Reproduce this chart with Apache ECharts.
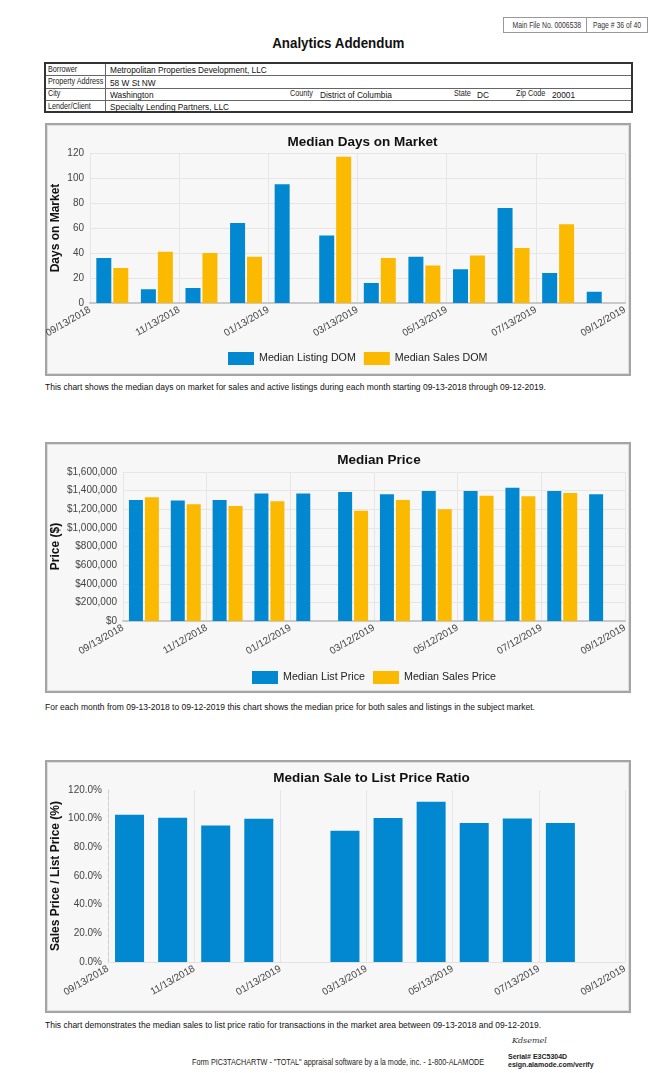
<!DOCTYPE html>
<html>
<head>
<meta charset="utf-8">
<script src="https://cdn.jsdelivr.net/npm/echarts@6/dist/echarts.min.js"></script>
<style>
  html, body { margin:0; padding:0; background:#fff; }
  body { width:650px; height:1073px; position:relative; overflow:hidden; font-family:"Liberation Sans", Arial, sans-serif; color:#111; }
  .abs { position:absolute; white-space:nowrap; }
  .nl { display:inline-block; transform:scaleX(0.8); transform-origin:left center; white-space:nowrap; }
  .nc { display:inline-block; transform:scaleX(0.8); transform-origin:center center; white-space:nowrap; }
  .box { position:absolute; background:#f7f7f7; border:2px solid #a4a4a4; box-shadow: inset 0 0 0 1px #dedede; box-sizing:border-box; }
  .hdrbox { position:absolute; border:1px solid #999; box-sizing:border-box; font-size:8.5px; color:#333; text-align:center; line-height:14px; overflow:visible; white-space:nowrap; }
  #tbl { position:absolute; left:44px; top:62px; width:589px; height:51px; border:2px solid #333; box-sizing:border-box; }
  .row { position:absolute; left:0; width:100%; height:12px; border-top:1px solid #666; box-sizing:border-box; }
  .lbl { position:absolute; font-size:9px; line-height:11px; color:#222; white-space:nowrap; }
  .val { position:absolute; font-size:8.3px; line-height:12px; color:#111; white-space:nowrap; }
  .cap { position:absolute; left:45px; font-size:8.5px; color:#111; white-space:nowrap; }
  #chart { position:absolute; left:0; top:0; width:650px; height:1073px; }
</style>
</head>
<body>
<div class="hdrbox" style="left:503px;top:17px;width:84px;height:16px;"><span class="nc">Main File No. 0006538</span></div>
<div class="hdrbox" style="left:586px;top:17px;width:62px;height:16px;"><span class="nc">Page # 36 of 40</span></div>
<div class="abs" style="left:0;width:676px;text-align:center;top:34px;font-size:15px;font-weight:bold;"><span style="display:inline-block;transform:scaleX(0.89);">Analytics Addendum</span></div>

<div id="tbl">
  <div class="row" style="top:11px;"></div>
  <div class="row" style="top:23.5px;"></div>
  <div class="row" style="top:36px;"></div>
  <div style="position:absolute;left:59px;top:0;width:1px;height:100%;background:#666;"></div>
  <div class="lbl" style="left:2px;top:0px;"><span class="nl">Borrower</span></div>
  <div class="val" style="left:64px;top:0px;">Metropolitan Properties Development, LLC</div>
  <div class="lbl" style="left:2px;top:12px;"><span class="nl">Property Address</span></div>
  <div class="val" style="left:64px;top:12.5px;">58 W St NW</div>
  <div class="lbl" style="left:2px;top:24px;"><span class="nl">City</span></div>
  <div class="val" style="left:64px;top:25px;">Washington</div>
  <div class="lbl" style="left:244px;top:24px;"><span class="nl">County</span></div>
  <div class="val" style="left:274px;top:25px;">District of Columbia</div>
  <div class="lbl" style="left:408px;top:24px;"><span class="nl">State</span></div>
  <div class="val" style="left:431px;top:25px;">DC</div>
  <div class="lbl" style="left:470px;top:24px;"><span class="nl">Zip Code</span></div>
  <div class="val" style="left:506px;top:25px;">20001</div>
  <div class="lbl" style="left:2px;top:36.5px;"><span class="nl">Lender/Client</span></div>
  <div class="val" style="left:64px;top:37px;">Specialty Lending Partners, LLC</div>
</div>

<div class="box" style="left:45px;top:123px;width:586px;height:253px;"></div>
<div class="box" style="left:45px;top:442px;width:586px;height:251px;"></div>
<div class="box" style="left:45px;top:760px;width:586px;height:253px;"></div>

<div class="cap" style="top:382px;">This chart shows the median days on market for sales and active listings during each month starting 09-13-2018 through 09-12-2019.</div>
<div class="cap" style="top:702px;">For each month from 09-13-2018 to 09-12-2019 this chart shows the median price for both sales and listings in the subject market.</div>
<div class="cap" style="top:1020px;">This chart demonstrates the median sales to list price ratio for transactions in the market area between 09-13-2018 and 09-12-2019.</div>

<div class="abs" style="left:192px;top:1057px;font-size:9px;color:#222;"><span class="nl" style="transform:scaleX(0.805);">Form PIC3TACHARTW - "TOTAL" appraisal software by a la mode, inc. - 1-800-ALAMODE</span></div>
<div class="abs" style="left:512px;top:1036px;font-family:'DejaVu Serif',serif;font-style:italic;font-size:8px;color:#333;">Kdsemel</div>
<div class="abs" style="left:508px;top:1053px;font-size:7px;font-weight:bold;color:#222;">Serial# E3C5304D</div>
<div class="abs" style="left:508px;top:1061px;font-size:7px;font-weight:bold;color:#222;">esign.alamode.com/verify</div>

<div id="chart"></div>
<script>
// ---- data ----
const monthCategories = ['09/13/2018','10/13/2018','11/13/2018','12/13/2018','01/13/2019','02/13/2019','03/13/2019','04/13/2019','05/13/2019','06/13/2019','07/13/2019','08/13/2019'];
const domTickLabels = ['09/13/2018','11/13/2018','01/13/2019','03/13/2019','05/13/2019','07/13/2019','09/12/2019'];
const priceTickLabels = ['09/13/2018','11/12/2018','01/12/2019','03/12/2019','05/12/2019','07/12/2019','09/12/2019'];
const ratioTickLabels = ['09/13/2018','11/13/2018','01/13/2019','03/13/2019','05/13/2019','07/13/2019','09/12/2019'];

const medianListingDom = [36, 11, 12, 64, 95, 54, 16, 37, 27, 76, 24, 9];
const medianSalesDom   = [28, 41, 40, 37, null, 117, 36, 30, 38, 44, 63, null];

const medianListPrice  = [1300000, 1295000, 1300000, 1370000, 1370000, 1385000, 1360000, 1395000, 1395000, 1430000, 1395000, 1360000];
const medianSalesPrice = [1330000, 1255000, 1235000, 1285000, null, 1185000, 1300000, 1200000, 1345000, 1340000, 1375000, null];

const saleToListRatio  = [102.7, 100.6, 95.3, 99.9, null, 91.5, 100.4, 111.8, 96.9, 100.2, 96.9, null];

// ---- styling ----
const BLUE = '#0288d1', YELLOW = '#fbb900';
const FONT = '"Liberation Sans", Arial, sans-serif';
const grids = [
  {left: 90, top: 153, width: 535, height: 150},
  {left: 123, top: 472, width: 502, height: 149},
  {left: 108, top: 790, width: 517, height: 172}
];
const tickSets = [domTickLabels, priceTickLabels, ratioTickLabels];

const xAxes = [];
grids.forEach((g, i) => {
  xAxes.push({
    type: 'category', gridIndex: i, data: monthCategories, position: 'bottom',
    axisLabel: {show: false}, axisTick: {show: false},
    axisLine: {show: true, lineStyle: {color: i === 2 ? '#e2e2e2' : '#c9c9c9', width: i === 2 ? 1 : 2}},
    splitLine: {show: false}
  });
  xAxes.push({
    type: 'value', gridIndex: i, min: 0, max: 12, interval: 2, position: 'bottom',
    axisLine: {show: false}, axisTick: {show: false},
    splitLine: {show: true, lineStyle: {color: '#e6e6e6', width: 1}},
    axisLabel: {
      rotate: 30, margin: 6, fontSize: 10, color: '#444', fontFamily: FONT,
      formatter: (v) => tickSets[i][Math.round(v / 2)] || ''
    }
  });
});

const nameStyle = {fontSize: 12, fontWeight: 'bold', color: '#111', fontFamily: FONT};
const yAxes = [
  {gridIndex: 0, type: 'value', min: 0, max: 120, interval: 20,
   name: 'Days on Market', nameLocation: 'middle', nameGap: 28, nameMoveOverlap: false, nameTextStyle: nameStyle,
   axisLine: {show: false}, axisTick: {show: false},
   axisLabel: {fontSize: 10, color: '#444', margin: 6, fontFamily: FONT},
   splitLine: {lineStyle: {color: '#e6e6e6'}}},
  {gridIndex: 1, type: 'value', min: 0, max: 1600000, interval: 200000,
   name: 'Price ($)', nameLocation: 'middle', nameGap: 61, nameMoveOverlap: false, nameTextStyle: nameStyle,
   axisLine: {show: false}, axisTick: {show: false},
   axisLabel: {fontSize: 10, color: '#444', margin: 6, fontFamily: FONT,
     formatter: (v) => '$' + v.toLocaleString('en-US')},
   splitLine: {lineStyle: {color: '#e6e6e6'}}},
  {gridIndex: 2, type: 'value', min: 0, max: 120, interval: 20,
   name: 'Sales Price / List Price (%)', nameLocation: 'middle', nameGap: 46, nameMoveOverlap: false, nameTextStyle: nameStyle,
   axisLine: {show: true, lineStyle: {color: '#d0d0d0', type: 'dashed'}}, axisTick: {show: false},
   axisLabel: {fontSize: 10, color: '#444', margin: 6, fontFamily: FONT,
     formatter: (v) => v.toFixed(1) + '%'},
   splitLine: {show: false}}
];

const titleStyle = {fontSize: 13.5, fontWeight: 'bold', color: '#111', fontFamily: FONT};
const legendCommon = {icon: 'rect', padding: 0, itemWidth: 26, itemHeight: 13, itemGap: 8,
  textStyle: {fontSize: 10.7, color: '#222', fontFamily: FONT}};
const option = {
  animation: false,
  title: [
    {text: 'Median Days on Market', left: 357.5, textAlign: 'center', top: 130, textStyle: titleStyle},
    {text: 'Median Price', left: 374, textAlign: 'center', top: 448, textStyle: titleStyle},
    {text: 'Median Sale to List Price Ratio', left: 366.5, textAlign: 'center', top: 766, textStyle: titleStyle}
  ],
  legend: [
    Object.assign({data: ['Median Listing DOM', 'Median Sales DOM'], left: 228, top: 352}, legendCommon),
    Object.assign({data: ['Median List Price', 'Median Sales Price'], left: 252, top: 671}, legendCommon)
  ],
  grid: grids,
  xAxis: xAxes,
  yAxis: yAxes,
  series: [
    {name: 'Median Listing DOM', type: 'bar', xAxisIndex: 0, yAxisIndex: 0, data: medianListingDom,
     barWidth: 15, barGap: '13%', itemStyle: {color: BLUE}},
    {name: 'Median Sales DOM', type: 'bar', xAxisIndex: 0, yAxisIndex: 0, data: medianSalesDom,
     barWidth: 15, barGap: '13%', itemStyle: {color: YELLOW}},
    {name: 'Median List Price', type: 'bar', xAxisIndex: 2, yAxisIndex: 1, data: medianListPrice,
     barWidth: 14, barGap: '14%', itemStyle: {color: BLUE}},
    {name: 'Median Sales Price', type: 'bar', xAxisIndex: 2, yAxisIndex: 1, data: medianSalesPrice,
     barWidth: 14, barGap: '14%', itemStyle: {color: YELLOW}},
    {name: 'Median Sale to List Price Ratio', type: 'bar', xAxisIndex: 4, yAxisIndex: 2, data: saleToListRatio,
     barWidth: 29, itemStyle: {color: BLUE}}
  ]
};
const chart = echarts.init(document.getElementById('chart'), null, {renderer: 'canvas'});
chart.setOption(option);
</script>
</body>
</html>
